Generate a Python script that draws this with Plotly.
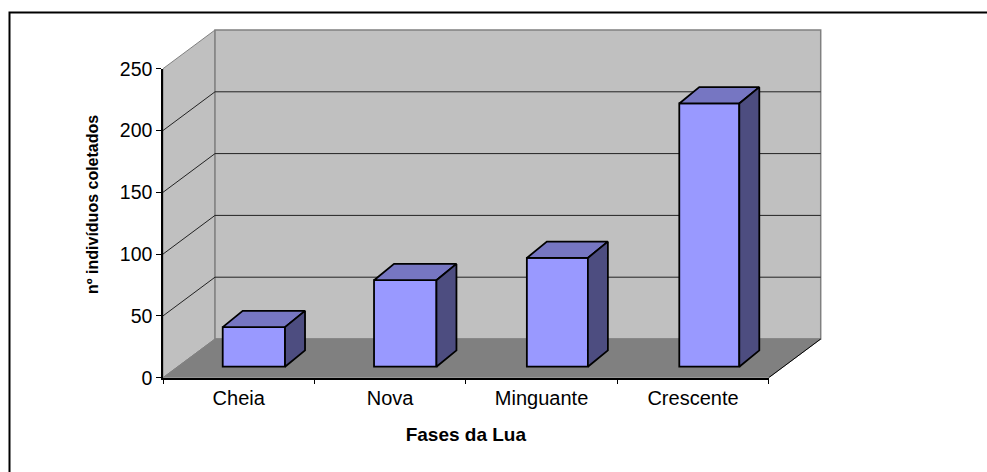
import plotly.graph_objects as go

categories = ["Cheia", "Nova", "Minguante", "Crescente"]
values = [32, 70, 88, 213]
y_ticks = [0, 50, 100, 150, 200, 250]
x_title = "Fases da Lua"
y_title = "nº indivíduos coletados"

PX_X = 151.4    # pixels per category
PX_Y = 1.236    # pixels per count
# depth of the 3D box, in axis units
DX = 52 / PX_X
DY = 38.7 / PX_Y
# bar layout
BAR_RIGHT = 0.5 + 31.5 / PX_X                   # right edge inside its category
BAR_W = [w / PX_X for w in (62.3, 62.4, 61, 60)]
BAR_SHIFT_X = 14.8 / PX_X                       # front face set back from the axis
BAR_BASE = 11 / PX_Y
BAR_DX = 20 / PX_X
BAR_DY = 16.3 / PX_Y
EDGE = 1.8

WALL = "#C0C0C0"
FLOOR = "#808080"
FRONT = "#9999FF"
TOP = "#7676C2"
SIDE = "#4D4D80"

def poly(xs, ys, fill, line, width=1, xa="x", ya="y"):
    return go.Scatter(x=xs, y=ys, mode="lines", fill="toself" if fill else None,
                      fillcolor=fill, line=dict(color=line, width=width),
                      hoverinfo="skip", showlegend=False, xaxis=xa, yaxis=ya)

n = len(categories)
top = y_ticks[-1]
fig = go.Figure()
# walls and floor (subplot xy, extended range so that the box depth fits)
fig.add_trace(poly([0, 0, DX, DX, 0], [0, top, top + DY, DY, 0], WALL, "#808080"))
fig.add_trace(poly([DX, DX, n + DX, n + DX, DX], [DY, top + DY, top + DY, DY, DY], WALL, "#808080", 1.5))
fig.add_trace(poly([0, DX, n + DX, n, 0], [0, DY, DY, 0, 0], FLOOR, "#808080"))
fig.add_trace(poly([n, n + DX], [0, DY], None, "#000000"))
for t in y_ticks[1:-1]:
    fig.add_trace(poly([0, DX, n + DX], [t, t + DY, t + DY], None, "#222222"))

# bars (subplot x2y2 drawn above the walls)
rights = [i + BAR_RIGHT + BAR_SHIFT_X for i in range(n)]
lefts = [r - w for r, w in zip(rights, BAR_W)]
fig.add_trace(go.Bar(x=[(a + b) / 2 for a, b in zip(lefts, rights)], y=values,
                     base=[BAR_BASE] * n, width=BAR_W,
                     marker=dict(color=FRONT, line=dict(color="#000000", width=EDGE)),
                     xaxis="x2", yaxis="y2", showlegend=False, hoverinfo="skip"))
for l, r, v in zip(lefts, rights, values):
    t = BAR_BASE + v
    fig.add_trace(poly([l, r, r + BAR_DX, l + BAR_DX, l],
                       [t, t, t + BAR_DY, t + BAR_DY, t], TOP, "#000000", EDGE, "x2", "y2"))
    fig.add_trace(poly([r, r, r + BAR_DX, r + BAR_DX, r],
                       [BAR_BASE, t, t + BAR_DY, BAR_BASE + BAR_DY, BAR_BASE],
                       SIDE, "#000000", EDGE, "x2", "y2"))

# visible axes (subplot x3y3) span only the front edge of the box
fig.add_trace(go.Scatter(x=[i + 0.5 for i in range(n)], y=values, mode="none",
                         xaxis="x3", yaxis="y3", showlegend=False, hoverinfo="skip"))

FONT = "Liberation Sans, Arial, sans-serif"
W, H = 987, 472
L, R, T, B = 163, 768.7, 68.7, 377.7
PAD_X, PAD_Y = 60, 45   # extra room for the depth, pixels
dom_x = [L / W, (R + PAD_X) / W]
dom_y = [1 - B / H, 1 - (T - PAD_Y) / H]
rng_x = [0, n * (R - L + PAD_X) / (R - L)]
rng_y = [0, top * (B - T + PAD_Y) / (B - T)]
hidden = dict(domain=dom_x, range=rng_x, visible=False, fixedrange=True)
hidden_y = dict(domain=dom_y, range=rng_y, visible=False, fixedrange=True)

fig.update_layout(
    width=W, height=H, autosize=False,
    margin=dict(l=0, r=0, t=0, b=0, autoexpand=False),
    paper_bgcolor="white", plot_bgcolor="rgba(0,0,0,0)",
    font=dict(family=FONT, size=19, color="#000000"),
    showlegend=False,
    xaxis=dict(hidden, anchor="y"), yaxis=dict(hidden_y, anchor="x"),
    xaxis2=dict(hidden, anchor="y2"), yaxis2=dict(hidden_y, anchor="x2"),
    xaxis3=dict(domain=[L / W, R / W], range=[0, n], anchor="y3",
                tickmode="array", tickvals=[i + 0.5 for i in range(n)],
                ticktext=categories, ticks="", showgrid=False, zeroline=False,
                showline=True, linecolor="#000000", linewidth=1.5,
                ticklabelstandoff=2,
                minor=dict(tickmode="array", tickvals=list(range(n + 1)), ticks="outside",
                           ticklen=5, tickcolor="#000000", tickwidth=1, showgrid=False),
                title=dict(text="<b>" + x_title + "</b>", font=dict(size=19), standoff=19),
                tickfont=dict(size=20)),
    yaxis3=dict(domain=[1 - B / H, 1 - T / H], range=[0, top], anchor="x3",
                tickmode="array", tickvals=y_ticks, ticks="outside",
                ticklen=5, tickcolor="#000000", tickwidth=1, showgrid=False, zeroline=False,
                showline=True, linecolor="#000000", linewidth=1.5,
                tickfont=dict(size=19.5)),
    annotations=[dict(text="<b>" + y_title + "</b>", textangle=-90, showarrow=False,
                      xref="paper", yref="paper", x=92 / W, y=1 - 205 / H,
                      xanchor="center", yanchor="middle", font=dict(size=16))],
    shapes=[dict(type="rect", xref="paper", yref="paper", layer="below",
                 x0=9.5 / W, x1=(W + 5) / W, y0=-5 / H, y1=1 - 12.5 / H,
                 line=dict(color="#000000", width=2), fillcolor="rgba(0,0,0,0)")],
)
fig.write_html("out.html", config=dict(displayModeBar=False), post_script=(
    "document.body.style.margin='0';"
    "document.documentElement.style.overflow='hidden';"))
